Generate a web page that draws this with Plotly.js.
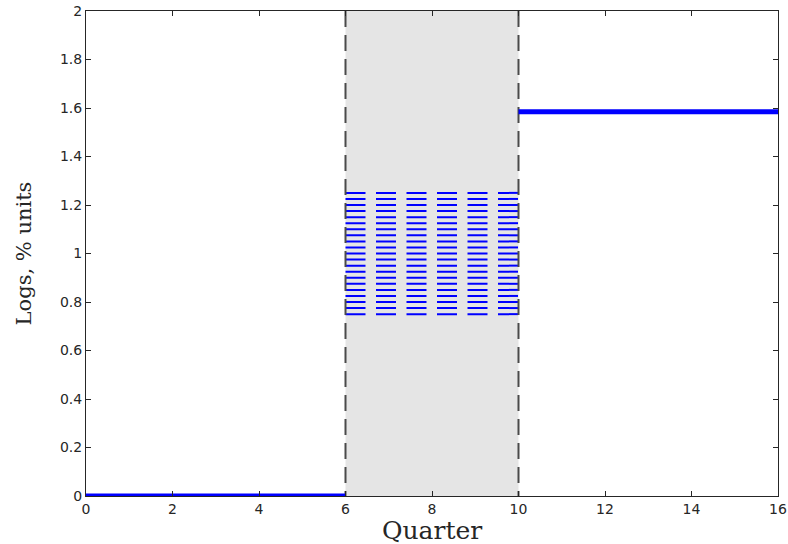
<!DOCTYPE html>
<html>
<head>
<meta charset="utf-8">
<script src="https://cdn.plot.ly/plotly-3.0.1.min.js"></script>
<style>html,body{margin:0;padding:0;background:#fff;}#chart{width:788px;height:544px;}</style>
</head>
<body>
<div id="chart"></div>
<script>
// Data
const preX = [0, 6];
const preY = [0, 0];
const postX = [10, 16];
const postY = [1.585, 1.585];
const shadeStart = 6;
const shadeEnd = 10;
const bandLevels = [0.75, 0.775, 0.8, 0.825, 0.85, 0.875, 0.9, 0.925, 0.95, 0.975, 1.0,
                    1.025, 1.05, 1.075, 1.1, 1.125, 1.15, 1.175, 1.2, 1.225, 1.25];
const xTicks = [0, 2, 4, 6, 8, 10, 12, 14, 16];
const yTicks = [0, 0.2, 0.4, 0.6, 0.8, 1, 1.2, 1.4, 1.6, 1.8, 2];
const xTitle = 'Quarter';
const yTitle = 'Logs, % units';

const traces = [];
bandLevels.forEach(v => {
  traces.push({
    x: [shadeStart, shadeEnd], y: [v, v], mode: 'lines', type: 'scatter',
    line: {color: '#0000ff', width: 2, dash: '20px,10.5px'},
    hoverinfo: 'skip', showlegend: false
  });
});
[shadeStart, shadeEnd].forEach(xv => {
  traces.push({
    x: [xv, xv], y: [yTicks[yTicks.length - 1], yTicks[0]], mode: 'lines', type: 'scatter',
    line: {color: '#4a4a4a', width: 2, dash: '16px,8px'},
    hoverinfo: 'skip', showlegend: false
  });
});
traces.push({x: preX, y: preY, mode: 'lines', type: 'scatter',
  line: {color: '#0000ff', width: 5}, hoverinfo: 'skip', showlegend: false});
traces.push({x: postX, y: postY, mode: 'lines', type: 'scatter',
  line: {color: '#0000ff', width: 5}, hoverinfo: 'skip', showlegend: false});

const axisCommon = {
  showline: true, mirror: 'ticks', linecolor: '#262626', linewidth: 1,
  ticks: 'inside', ticklen: 5, tickcolor: '#262626', tickwidth: 1,
  showgrid: false, zeroline: false,
  tickfont: {family: 'DejaVu Sans, Liberation Sans, sans-serif', size: 14, color: '#262626'}
};

const layout = {
  width: 788, height: 544,
  margin: {l: 86, r: 10, t: 11, b: 48},
  paper_bgcolor: '#ffffff', plot_bgcolor: '#ffffff',
  showlegend: false,
  xaxis: Object.assign({}, axisCommon, {
    range: [xTicks[0], xTicks[xTicks.length - 1]],
    tickvals: xTicks, ticktext: xTicks.map(String)
  }),
  yaxis: Object.assign({}, axisCommon, {
    range: [yTicks[0], yTicks[yTicks.length - 1]],
    tickvals: yTicks, ticktext: yTicks.map(String),
    title: {text: yTitle, font: {family: 'DejaVu Serif, Liberation Serif, serif', size: 21, color: '#262626'}, standoff: 22}
  }),
  annotations: [{
    text: xTitle, xref: 'paper', yref: 'paper', x: 0.5, y: 0,
    xanchor: 'center', yanchor: 'top', yshift: -18, showarrow: false,
    font: {family: 'DejaVu Serif, Liberation Serif, serif', size: 25, color: '#262626'}
  }],
  shapes: [{
    type: 'rect', xref: 'x', yref: 'y', layer: 'below',
    x0: shadeStart, x1: shadeEnd, y0: yTicks[0], y1: yTicks[yTicks.length - 1],
    fillcolor: '#e5e5e5', line: {width: 0}
  }]
};

Plotly.newPlot('chart', traces, layout, {displayModeBar: false, staticPlot: true});
</script>
</body>
</html>
